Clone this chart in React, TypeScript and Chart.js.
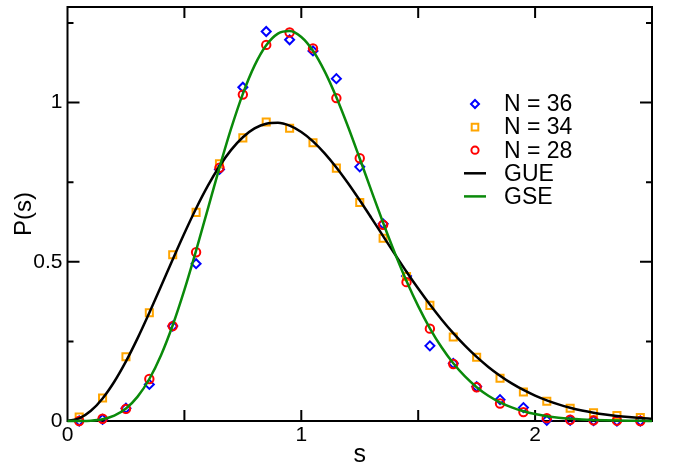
import React, { useEffect, useRef } from "react";
import { Chart, registerables } from "chart.js";

Chart.register(...registerables);

// ---- data ----
const sBins = [0.05, 0.15, 0.25, 0.35, 0.45, 0.55, 0.65, 0.75, 0.85, 0.95, 1.05, 1.15, 1.25, 1.35, 1.45, 1.55, 1.65, 1.75, 1.85, 1.95, 2.05, 2.15, 2.25, 2.35, 2.45];
const n36 = [0.0, 0.005, 0.04, 0.115, 0.298, 0.494, 0.79, 1.048, 1.223, 1.197, 1.162, 1.075, 0.798, 0.619, 0.455, 0.236, 0.181, 0.108, 0.067, 0.042, 0.002, 0.002, 0.001, 0.0, 0.0];
const n34 = [0.0125, 0.072, 0.202, 0.34, 0.522, 0.655, 0.808, 0.889, 0.939, 0.919, 0.874, 0.794, 0.686, 0.574, 0.454, 0.363, 0.264, 0.2, 0.134, 0.091, 0.062, 0.04, 0.026, 0.017, 0.011];
const n28 = [0.0, 0.007, 0.038, 0.132, 0.298, 0.53, 0.795, 1.025, 1.181, 1.22, 1.17, 1.014, 0.825, 0.616, 0.436, 0.29, 0.179, 0.106, 0.055, 0.028, 0.009, 0.004, 0.002, 0.001, 0.0];

const curveS = [0, 0.05, 0.1, 0.15, 0.2, 0.25, 0.3, 0.35, 0.4, 0.45, 0.5, 0.55, 0.6, 0.65, 0.7, 0.75, 0.8, 0.85, 0.9, 0.95, 1.0, 1.05, 1.1, 1.15, 1.2, 1.25, 1.3, 1.35, 1.4, 1.45, 1.5, 1.55, 1.6, 1.65, 1.7, 1.75, 1.8, 1.85, 1.9, 1.95, 2.0, 2.05, 2.1, 2.15, 2.2, 2.25, 2.3, 2.35, 2.4, 2.45, 2.5];
const gue = [0, 0.0081, 0.032, 0.0709, 0.1233, 0.1871, 0.2602, 0.3398, 0.4232, 0.5074, 0.5896, 0.6673, 0.7381, 0.8, 0.8514, 0.8911, 0.9187, 0.9337, 0.9363, 0.9274, 0.9077, 0.8782, 0.8405, 0.7961, 0.7465, 0.693, 0.6372, 0.5806, 0.5241, 0.4688, 0.4158, 0.3657, 0.3189, 0.2758, 0.2365, 0.2012, 0.1698, 0.1422, 0.1181, 0.0974, 0.0797, 0.0647, 0.0521, 0.0417, 0.0331, 0.0261, 0.0204, 0.0158, 0.0122, 0.0093, 0.0071];
const gse = [0, 0.0001, 0.0011, 0.0056, 0.0169, 0.0393, 0.0766, 0.1319, 0.2067, 0.3007, 0.4116, 0.5351, 0.6654, 0.7956, 0.9185, 1.0272, 1.1158, 1.1798, 1.2165, 1.2247, 1.2059, 1.1625, 1.0977, 1.0166, 0.9239, 0.8242, 0.7224, 0.6225, 0.5275, 0.4397, 0.3607, 0.2912, 0.2315, 0.1812, 0.1398, 0.1062, 0.0795, 0.0587, 0.0428, 0.0307, 0.0217, 0.0152, 0.0104, 0.0071, 0.0048, 0.0032, 0.002, 0.0013, 0.0008, 0.0005, 0.0003];

const seriesLabels = ["N = 36", "N = 34", "N = 28", "GUE", "GSE"];

const xTickValues = [0, 1, 2];
const xTickLabels = ["0", "1", "2"];
const yTickValues = [0, 0.5, 1];
const yTickLabels = ["0", "0.5", "1"];
const xMarkTicks = [0.5, 1, 1.5, 2];
const yMajorMarks = [0.5, 1];
const yMinorMarks = [0.25, 0.75, 1.25];

const FONT = "'Liberation Sans', Arial, Helvetica, sans-serif";
const BLUE = "#0000ff";
const ORANGE = "#ffa500";
const RED = "#ff0000";
const BLACK = "#000000";
const GREEN = "#0a8a0a";

const pts = (xs: number[], ys: number[]) => xs.map((x, i) => ({ x, y: ys[i] }));

const labelFor = (vals: number[], labels: string[], v: number) => {
  const i = vals.findIndex((t) => Math.abs(t - v) < 1e-6);
  return i >= 0 ? labels[i] : "";
};

const framePlugin = {
  id: "frameTicks",
  beforeDatasetsDraw(chart: any) {
    const { ctx, chartArea: a, scales } = chart;
    const xs = scales.x;
    const ys = scales.y;
    ctx.save();
    ctx.strokeStyle = "#000";
    ctx.lineWidth = 2;
    ctx.strokeRect(a.left, a.top, a.right - a.left, a.bottom - a.top);
    ctx.beginPath();
    for (const v of xMarkTicks) {
      const px = xs.getPixelForValue(v);
      ctx.moveTo(px, a.bottom);
      ctx.lineTo(px, a.bottom - 11);
      ctx.moveTo(px, a.top);
      ctx.lineTo(px, a.top + 11);
    }
    for (const v of yMajorMarks) {
      const py = ys.getPixelForValue(v);
      ctx.moveTo(a.left, py);
      ctx.lineTo(a.left + 12, py);
      ctx.moveTo(a.right, py);
      ctx.lineTo(a.right - 12, py);
    }
    for (const v of yMinorMarks) {
      const py = ys.getPixelForValue(v);
      ctx.moveTo(a.left, py);
      ctx.lineTo(a.left + 6, py);
      ctx.moveTo(a.right, py);
      ctx.lineTo(a.right - 6, py);
    }
    ctx.stroke();
    ctx.restore();
  },
};

const legendPlugin = {
  id: "insideLegend",
  afterDatasetsDraw(chart: any) {
    const { ctx } = chart;
    const mx = 475;
    const tx = 504;
    const y0 = 104;
    const dy = 23.1;
    ctx.save();
    ctx.font = `23px ${FONT}`;
    ctx.textBaseline = "middle";
    ctx.textAlign = "left";
    chart.data.datasets.forEach((ds: any, i: number) => {
      const y = y0 + i * dy;
      ctx.lineWidth = 2;
      ctx.strokeStyle = ds.borderColor;
      ctx.beginPath();
      if (ds.pointStyle === "rectRot") {
        const r = 4;
        ctx.moveTo(mx, y - r);
        ctx.lineTo(mx + r, y);
        ctx.lineTo(mx, y + r);
        ctx.lineTo(mx - r, y);
        ctx.closePath();
        ctx.stroke();
      } else if (ds.pointStyle === "rect") {
        ctx.rect(mx - 3.3, y - 3.3, 6.6, 6.6);
        ctx.stroke();
      } else if (ds.pointStyle === "circle" && ds.showLine !== true) {
        ctx.arc(mx, y, 3.6, 0, Math.PI * 2);
        ctx.stroke();
      } else {
        ctx.lineWidth = 2.5;
        ctx.moveTo(mx - 11, y);
        ctx.lineTo(mx + 11, y);
        ctx.stroke();
      }
      ctx.fillStyle = "#000";
      ctx.fillText(ds.label, tx, y + 1);
    });
    ctx.restore();
  },
};

export default function App() {
  const ref = useRef<HTMLCanvasElement>(null);

  useEffect(() => {
    const canvas = ref.current;
    if (!canvas) return;
    const markerBase = {
      showLine: false,
      pointBorderWidth: 2,
      pointBackgroundColor: "rgba(0,0,0,0)",
      backgroundColor: "rgba(0,0,0,0)",
      clip: false as any,
    };
    const chart = new Chart(canvas, {
      type: "scatter",
      data: {
        datasets: [
          { ...markerBase, label: seriesLabels[0], data: pts(sBins, n36), borderColor: BLUE, pointBorderColor: BLUE, pointStyle: "rectRot", pointRadius: 4.5, order: 5 },
          { ...markerBase, label: seriesLabels[1], data: pts(sBins, n34), borderColor: ORANGE, pointBorderColor: ORANGE, pointStyle: "rect", pointRadius: 5, order: 4 },
          { ...markerBase, label: seriesLabels[2], data: pts(sBins, n28), borderColor: RED, pointBorderColor: RED, pointStyle: "circle", pointRadius: 4.2, order: 3 },
          { label: seriesLabels[3], data: pts(curveS, gue), showLine: true, borderColor: BLACK, borderWidth: 2.5, pointRadius: 0, cubicInterpolationMode: "monotone", clip: false as any, order: 2, pointStyle: "line" },
          { label: seriesLabels[4], data: pts(curveS, gse), showLine: true, borderColor: GREEN, borderWidth: 2.5, pointRadius: 0, cubicInterpolationMode: "monotone", clip: false as any, order: 1, pointStyle: "line" },
        ],
      },
      options: {
        responsive: false,
        animation: false,
        events: [],
        layout: { padding: { top: 5, right: 21, left: 0, bottom: 0 } },
        plugins: { legend: { display: false }, tooltip: { enabled: false } },
        scales: {
          x: {
            type: "linear",
            min: 0,
            max: 2.5,
            afterFit: (s: any) => {
              s.height = 52;
              s.paddingLeft = 0;
              s.paddingRight = 0;
            },
            grid: { display: false, drawTicks: false },
            border: { display: false },
            ticks: {
              stepSize: 0.5,
              autoSkip: false,
              maxRotation: 0,
              padding: 2,
              color: "#000",
              font: { family: FONT, size: 21 },
              callback: (v: any) => labelFor(xTickValues, xTickLabels, Number(v)),
            },
            title: { display: true, text: "s", color: "#000", font: { family: FONT, size: 25 }, padding: { top: 0, bottom: 3 } },
          },
          y: {
            type: "linear",
            min: 0,
            max: 1.3,
            afterFit: (s: any) => {
              s.width = 67.5;
              s.paddingTop = 0;
              s.paddingBottom = 0;
            },
            grid: { display: false, drawTicks: false },
            border: { display: false },
            ticks: {
              stepSize: 0.25,
              autoSkip: false,
              padding: 5,
              color: "#000",
              font: { family: FONT, size: 21 },
              callback: (v: any) => labelFor(yTickValues, yTickLabels, Number(v)),
            },
            title: { display: true, text: "P(s)", color: "#000", font: { family: FONT, size: 24 }, padding: { top: 10, bottom: 0 } },
          },
        },
      },
      plugins: [framePlugin, legendPlugin],
    });
    return () => chart.destroy();
  }, []);

  return (
    <div style={{ position: "fixed", left: 0, top: 0, width: 673, height: 473, background: "#fff" }}>
      <canvas ref={ref} width={673} height={473} style={{ display: "block", width: 673, height: 473 }} />
    </div>
  );
}
